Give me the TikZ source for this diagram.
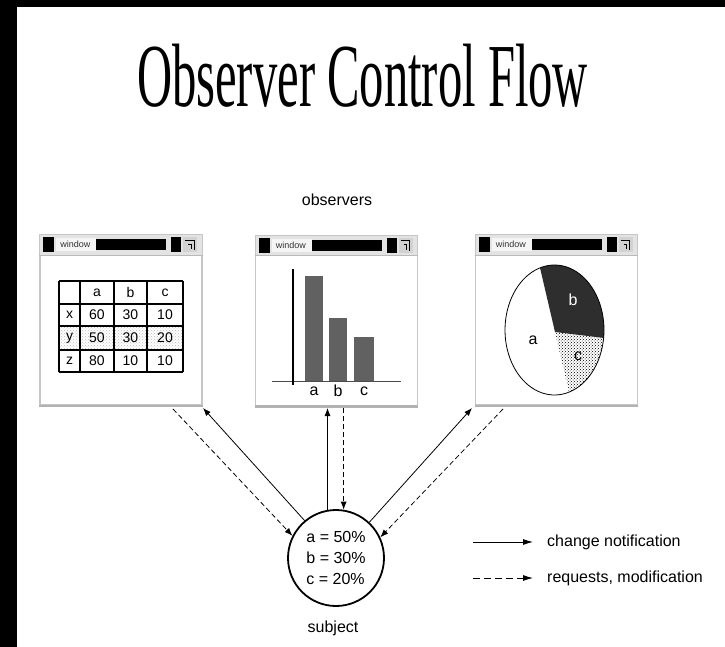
\documentclass[tikz,border=0pt]{standalone}
\usepackage{fontspec}
\setmainfont{Liberation Serif}
\setsansfont{Liberation Sans}
\usetikzlibrary{arrows.meta,patterns}

\tikzset{
  window/.style={draw=gray!45, line width=1.6pt, fill=white, minimum width=162pt, minimum height=170pt, inner sep=0pt},
  tabline/.style={black, line width=1.1pt},
  cell/.style={font=\sffamily\fontsize{14}{14}\selectfont, inner sep=0pt},
  captext/.style={font=\sffamily\fontsize{16}{16}\selectfont, inner sep=0pt},
  barfill/.style={fill=black!62},
  notify/.style={line width=0.8pt, -{Latex[length=8pt,width=6pt]}},
  request/.style={notify, dash pattern=on 5pt off 3pt},
}

% title bar of a window node
\newcommand{\titlebar}[1]{%
  \fill[gray!22] ([shift={(1,1)}]#1.north west) rectangle ([shift={(-1,21)}]#1.north east);
  \draw[gray!55, line width=0.8pt] ([shift={(0,21)}]#1.north west) -- ([shift={(0,21)}]#1.north east);
  \fill[black] ([shift={(4,3)}]#1.north west) rectangle ([shift={(15,18)}]#1.north west);
  \fill[gray!8] ([shift={(17,4)}]#1.north west) rectangle ([shift={(57,17)}]#1.north west);
  \node[font=\sffamily\fontsize{9}{9}\selectfont, text=black!80, inner sep=0pt, anchor=west] (#1-name) at ([shift={(21,10.5)}]#1.north west) {window};
  \fill[black] ([shift={(57,5)}]#1.north west) rectangle ([shift={(127,16)}]#1.north west);
  \fill[black] ([shift={(132,3)}]#1.north west) rectangle ([shift={(142,18)}]#1.north west);
  \fill[gray!35] ([shift={(144,3)}]#1.north west) rectangle ([shift={(158,18)}]#1.north west);
  \draw[black, line width=1.2pt] ([shift={(146,6)}]#1.north west) -- ([shift={(155,6)}]#1.north west) -- ([shift={(155,16)}]#1.north west);
  \draw[black, line width=1pt] ([shift={(149,10)}]#1.north west) -- ([shift={(152,10)}]#1.north west) -- ([shift={(152,15)}]#1.north west);
}

\begin{document}
\begin{tikzpicture}[x=1pt, y=-1pt]
  \useasboundingbox (0,0) rectangle (725,647);
  \fill[white] (0,0) rectangle (725,647);
  \fill[black] (0,0) rectangle (17,647);
  \fill[black] (0,0) rectangle (725,7);

  \node[font=\rmfamily\fontsize{90}{90}\selectfont, anchor=base, inner sep=0pt] (title) at (362.5,107) {\scalebox{0.54}[1]{Observer Control Flow}};
  \node[captext] (obs) at (337,200) {observers};

  % the three observer windows
  \node[window] (winL) at (121,320) {};
  \node[window] (winM) at (336.5,320.5) {};
  \node[window] (winR) at (556.5,320) {};
  \foreach \w in {winL,winM,winR}
    \titlebar{\w}
  \foreach \w in {winL,winM,winR}
    \draw[gray!60, line width=2.4pt] (\w.south west) -- (\w.south east);

  % table
  \fill[pattern=crosshatch dots, pattern color=gray!55] (59,326) rectangle (183,350);
  \foreach \cx in {59,80,114,147,183}
    \draw[tabline] (\cx,281) -- (\cx,372);
  \foreach \ry in {281,304,326,350,372}
    \draw[tabline] (59,\ry) -- (183,\ry);
  \foreach \txt/\cx in {a/97,b/130.5,c/165}
    \node[cell] (hd-\txt) at (\cx,292.5) {\txt};
  \foreach \rn/\ry/\va/\vb/\vc in {x/315/60/30/10, y/338/50/30/20, z/361/80/10/10} {
    \node[cell] (rl-\rn) at (69.5,\ry) {\rn};
    \node[cell] (\rn-a) at (97,\ry) {\va};
    \node[cell] (\rn-b) at (130.5,\ry) {\vb};
    \node[cell] (\rn-c) at (165,\ry) {\vc};
  }

  % bar chart
  \draw[black!70, line width=1pt] (272,381) -- (401,381);
  \draw[black, line width=1.3pt] (293,269) -- (293,385);
  \foreach \nm/\xl/\xr/\ytop in {a/305/323/276, b/329/347/318, c/354/374/337} {
    \fill[barfill] (\xl,\ytop) rectangle (\xr,381);
    \node[captext] (bar-\nm) at ({(\xl+\xr)/2},391) {\nm};
  }

  % pie chart
  \coordinate (pieC) at (555,332);
  \fill[black!82] (pieC) -- plot[domain=107:-7, samples=40] ({554.5+49.5*cos(\x)},{330-65*sin(\x)}) -- cycle;
  \fill[pattern=crosshatch dots] (pieC) -- plot[domain=-7:-73, samples=30] ({554.5+49.5*cos(\x)},{330-65*sin(\x)}) -- cycle;
  \draw[line width=0.8pt] plot[domain=0:360, samples=90] ({554.5+49.5*cos(\x)},{330-65*sin(\x)}) -- cycle;
  \node[captext] (pie-a) at (533,340) {a};
  \node[captext, text=white] (pie-b) at (573,300) {b};
  \node[captext] (pie-c) at (578,356) {c};

  % subject
  \node[circle, draw, line width=1.8pt, minimum size=96pt, inner sep=0pt, align=left, font=\sffamily\fontsize{16}{21}\selectfont] (subj) at (336,558) {a = 50\%\\b = 30\%\\c = 20\%};
  \node[captext] (subjname) at (333,628) {subject};

  % connector ends at the windows
  \coordinate (lReq) at (173,409);
  \coordinate (lNot) at (203,408);
  \coordinate (mTop) at (0,408);
  \coordinate (rNot) at (472,408);
  \coordinate (rReq) at (503,409);

  \draw[request] (lReq) -- (subj.153);
  \draw[notify] (subj.130) -- (lNot);
  \draw[notify] (subj.100) -- (subj.100 |- mTop);
  \draw[request] (subj.81 |- mTop) -- (subj.81);
  \draw[notify] (subj.47) -- (rNot);
  \draw[request] (rReq) -- (subj.25);

  % legend
  \coordinate (legS0) at (473,542);
  \coordinate (legS1) at (533,542);
  \coordinate (legR0) at (473,578);
  \coordinate (legR1) at (533,578);
  \draw[line width=0.9pt, -{Latex[length=10pt,width=6pt]}] (legS0) -- (legS1);
  \draw[line width=0.9pt, dash pattern=on 7pt off 4pt, -{Latex[length=10pt,width=6pt]}] (legR0) -- (legR1);
  \node[captext, anchor=west] (legN) at (547,542) {change notification};
  \node[captext, anchor=west] (legR) at (547,578) {requests, modification};
\end{tikzpicture}
\end{document}
